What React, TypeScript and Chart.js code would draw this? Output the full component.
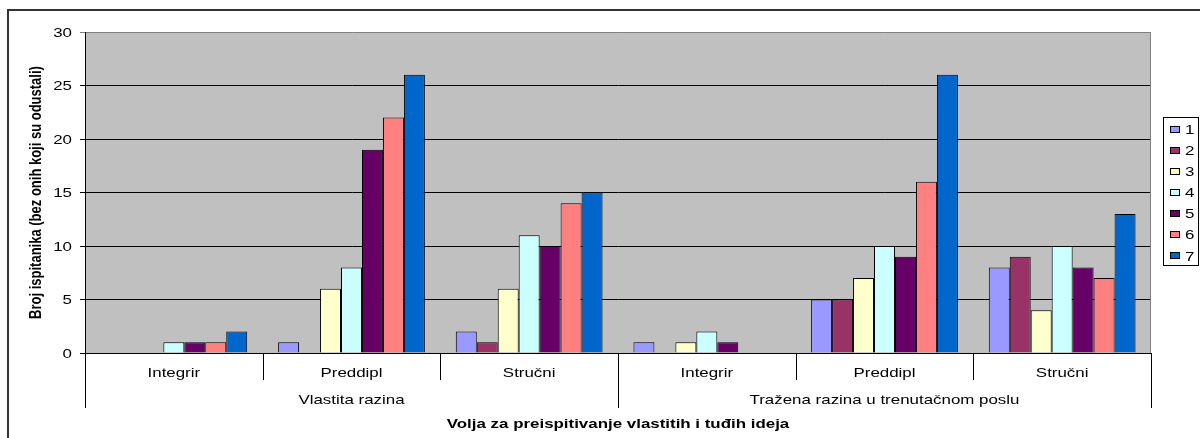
import React, { useEffect, useRef } from "react";
import { Chart, registerables } from "chart.js";

Chart.register(...registerables);

const categories = ["Integrir", "Preddipl", "Stručni", "Integrir", "Preddipl", "Stručni"];
const groups = ["Vlastita razina", "Tražena razina u trenutačnom poslu"];
const groupSize = 3;
const xTitle = "Volja za preispitivanje vlastitih i tuđih ideja";
const yTitle = "Broj ispitanika (bez onih koji su odustali)";

const seriesLabels = ["1", "2", "3", "4", "5", "6", "7"];
const series1 = [0, 1, 2, 1, 5, 8];
const series2 = [0, 0, 1, 0, 5, 9];
const series3 = [0, 6, 6, 1, 7, 4];
const series4 = [1, 8, 11, 2, 10, 10];
const series5 = [1, 19, 10, 1, 9, 8];
const series6 = [1, 22, 14, 0, 16, 7];
const series7 = [2, 26, 15, 0, 26, 13];
const seriesValues = [series1, series2, series3, series4, series5, series6, series7];
const seriesColors = ["#9999FF", "#993366", "#FFFFCC", "#CCFFFF", "#660066", "#FF8080", "#0066CC"];

const yMin = 0;
const yMax = 30;
const yStep = 5;

const FONT = "'Liberation Sans', Arial, sans-serif";
const STRETCH = 1.3;

function drawText(
  ctx: CanvasRenderingContext2D,
  text: string,
  x: number,
  y: number,
  align: CanvasTextAlign,
  bold = false,
  rotate = false
) {
  ctx.save();
  ctx.translate(x, y);
  ctx.scale(STRETCH, 1);
  if (rotate) ctx.rotate(-Math.PI / 2);
  ctx.font = `${bold ? "bold " : ""}13px ${FONT}`;
  ctx.fillStyle = "#000";
  ctx.textAlign = align;
  ctx.textBaseline = "alphabetic";
  ctx.fillText(text, 0, 0);
  ctx.restore();
}

const decorPlugin = {
  id: "decor",
  beforeDraw(chart: any) {
    const { ctx, chartArea } = chart;
    ctx.save();
    ctx.fillStyle = "#C0C0C0";
    ctx.fillRect(chartArea.left, chartArea.top, chartArea.right - chartArea.left, chartArea.bottom - chartArea.top);
    ctx.restore();
  },
  afterDraw(chart: any) {
    const { ctx, chartArea } = chart;
    const xs = chart.scales.x;
    const ys = chart.scales.y;
    ctx.save();
    // outer frame
    ctx.fillStyle = "#333";
    ctx.fillRect(7, 9, 1300, 2);
    ctx.fillRect(7, 9, 2, 500);
    // right plot border
    ctx.strokeStyle = "#808080";
    ctx.lineWidth = 1;
    ctx.beginPath();
    ctx.moveTo(Math.round(chartArea.right) - 0.5, chartArea.top);
    ctx.lineTo(Math.round(chartArea.right) - 0.5, chartArea.bottom);
    ctx.stroke();

    // y tick labels
    ys.ticks.forEach((t: any) => {
      const y = ys.getPixelForValue(t.value);
      drawText(ctx, String(t.value), 72, y + 4.6, "right");
    });
    // y title
    drawText(ctx, yTitle, 41, (chartArea.top + chartArea.bottom) / 2, "center", true, true);

    // category separators
    ctx.strokeStyle = "#000";
    ctx.lineWidth = 1;
    for (let b = 0; b <= categories.length; b++) {
      const x = Math.round(xs.getPixelForValue(b - 0.5)) + 0.5;
      const end = b % groupSize === 0 ? 408 : 380;
      ctx.beginPath();
      ctx.moveTo(x, chartArea.bottom);
      ctx.lineTo(x, end);
      ctx.stroke();
    }
    // category labels
    categories.forEach((c, i) => {
      drawText(ctx, c, xs.getPixelForValue(i), 377, "center");
    });
    // group labels
    groups.forEach((g, gi) => {
      const x0 = xs.getPixelForValue(gi * groupSize - 0.5);
      const x1 = xs.getPixelForValue(gi * groupSize + groupSize - 0.5);
      drawText(ctx, g, (x0 + x1) / 2, 404, "center");
    });
    // x title
    drawText(ctx, xTitle, (chartArea.left + chartArea.right) / 2, 428, "center", true);

    // legend
    const lx = 1163.5;
    const ly = 117.5;
    ctx.fillStyle = "#fff";
    ctx.fillRect(lx, ly, 35, 148);
    ctx.strokeStyle = "#000";
    ctx.strokeRect(lx, ly, 35, 148);
    chart.data.datasets.forEach((ds: any, i: number) => {
      const cy = 129.3 + i * 21.1;
      ctx.fillStyle = ds.backgroundColor;
      ctx.fillRect(1170, Math.round(cy - 3.5), 10, 7);
      ctx.strokeStyle = "#000";
      ctx.strokeRect(1170.5, Math.round(cy - 3.5) + 0.5, 9, 6);
      drawText(ctx, ds.label, 1185, cy + 4.6, "left");
    });
    ctx.restore();
  },
};

export default function App() {
  const ref = useRef<HTMLCanvasElement | null>(null);
  useEffect(() => {
    if (!ref.current) return;
    const chart = new Chart(ref.current, {
      type: "bar",
      data: {
        labels: categories,
        datasets: seriesValues.map((vals, i) => ({
          label: seriesLabels[i],
          data: vals,
          backgroundColor: seriesColors[i],
          borderColor: "#000",
          borderWidth: 1,
          categoryPercentage: 0.826,
          barPercentage: 1,
        })),
      },
      options: {
        animation: false,
        responsive: false,
        devicePixelRatio: 1,
        layout: { padding: { left: 0, top: 32, right: 49, bottom: 0 } },
        plugins: {
          legend: { display: false },
          title: { display: false },
          tooltip: { enabled: false },
        },
        scales: {
          x: {
            type: "category",
            offset: true,
            ticks: { display: false },
            grid: { display: true, drawOnChartArea: false, drawTicks: false },
            border: { display: true, color: "#000", width: 1 },
            afterFit: (scale: any) => {
              scale.height = 85;
            },
          },
          y: {
            min: yMin,
            max: yMax,
            ticks: { display: false, stepSize: yStep },
            grid: {
              color: (c: any) => (c.tick && c.tick.value === yMax ? "#808080" : "#000"),
              lineWidth: 1,
              drawTicks: true,
              tickLength: 5,
            },
            border: { display: true, color: "#000", width: 1 },
            afterFit: (scale: any) => {
              scale.width = 85;
            },
          },
        },
      },
      plugins: [decorPlugin],
    } as any);
    return () => chart.destroy();
  }, []);
  return (
    <div style={{ position: "absolute", left: 0, top: 0, width: 1200, height: 438, overflow: "hidden", background: "#fff" }}>
      <canvas ref={ref} width={1200} height={438} style={{ display: "block", width: 1200, height: 438 }} />
    </div>
  );
}
